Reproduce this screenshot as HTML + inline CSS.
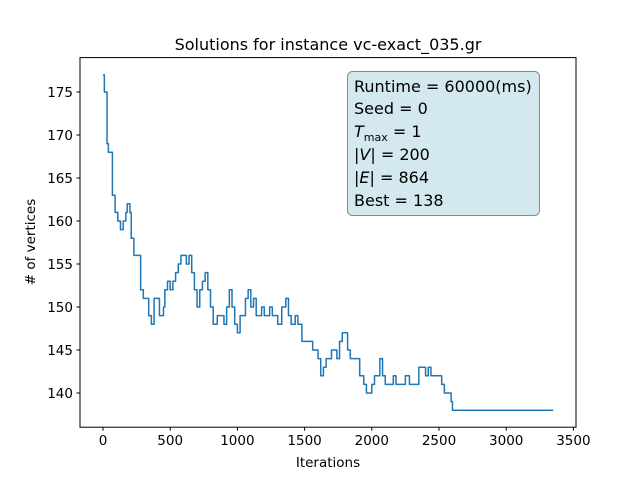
<!DOCTYPE html>
<html><head><meta charset="utf-8"><style>
body{margin:0;background:#fff}
svg{display:block;font-family:"DejaVu Sans","Liberation Sans",sans-serif}
</style></head><body>
<svg id="chart" width="640" height="480">
<rect width="640" height="480" fill="#fff"/>
<text x="328" y="50" text-anchor="middle" font-size="16">Solutions for instance vc-exact_035.gr</text>
<g id="plot"></g>
<rect x="80" y="57.6" width="496" height="369.6" fill="none" stroke="#000" stroke-width="1"/>
<text x="328" y="467" text-anchor="middle" font-size="13.5">Iterations</text>
<text transform="translate(35,242) rotate(-90)" text-anchor="middle" font-size="13.5"># of vertices</text>
<g>
<rect x="347.5" y="71.5" width="192" height="144" rx="5" fill="#d4e9ef" stroke="#7f8c8d" stroke-width="1"/>
<g font-size="16" fill="#000">
<text x="354" y="92">Runtime = 60000(ms)</text>
<text x="354" y="114">Seed = 0</text>
<text x="354" y="137"><tspan font-style="italic">T</tspan><tspan font-size="11" dy="4">max</tspan><tspan dy="-4"> = 1</tspan></text>
<text x="354" y="160">|<tspan font-style="italic">V</tspan>| = 200</text>
<text x="354" y="183">|<tspan font-style="italic">E</tspan>| = 864</text>
<text x="354" y="206">Best = 138</text>
</g></g>
</svg>
<script>
const iters=[0,10,30,40,60,70,90,110,130,150,170,180,200,210,230,260,280,300,330,340,360,380,400,420,450,460,480,500,520,540,560,580,600,620,640,660,680,700,720,740,760,780,800,820,850,900,920,940,960,980,1000,1020,1060,1080,1100,1120,1140,1180,1200,1240,1260,1300,1330,1360,1380,1400,1430,1450,1480,1520,1560,1600,1620,1640,1660,1700,1740,1760,1780,1800,1820,1840,1880,1910,1940,1960,2000,2020,2060,2080,2100,2150,2160,2180,2220,2250,2280,2320,2350,2400,2420,2440,2480,2520,2540,2580,2590,2600,3350];
const vertices=[177,175,169,168,168,163,161,160,159,160,161,162,161,158,156,156,152,151,151,149,148,151,151,149,150,152,153,152,153,154,155,156,156,155,156,154,152,150,152,153,154,152,150,148,149,148,150,152,150,148,147,149,151,152,150,151,149,150,149,150,149,148,150,151,149,148,149,148,146,146,145,144,142,143,144,145,144,146,147,147,145,144,144,142,141,140,141,142,144,142,141,141,142,141,141,142,141,141,143,142,143,142,142,141,140,140,139,138,138];
const xTicks=[0,500,1000,1500,2000,2500,3000,3500];
const yTicks=[140,145,150,155,160,165,170,175];
const NS="http://www.w3.org/2000/svg";
const X=v=>103+v*67.2/500;
const Y=v=>92+(175-v)*8.6;
const g=document.getElementById('plot');
function mk(t,a){const e=document.createElementNS(NS,t);for(const k in a)e.setAttribute(k,a[k]);return e;}
xTicks.forEach(t=>{
 const l=mk('line',{x1:X(t),x2:X(t),y1:427.2,y2:430.7,stroke:'#000'});
 
 
 g.appendChild(l);
 const s=mk('text',{x:X(t),y:445,'text-anchor':'middle','font-size':'13.5'});s.textContent=t;
 
 
 g.appendChild(s);
});
yTicks.forEach(t=>{
 const l=mk('line',{x1:76.5,x2:80,y1:Y(t),y2:Y(t),stroke:'#000'});
 
 
 g.appendChild(l);
 const s=mk('text',{x:73,y:Y(t)+5,'text-anchor':'end','font-size':'13.5'});s.textContent=t;
 
 
 g.appendChild(s);
});
let d='M'+X(iters[0])+','+Y(vertices[0]);
for(let i=1;i<iters.length;i++){d+=' H'+X(iters[i])+' V'+Y(vertices[i]);}
const p=mk('path',{d:d,fill:'none',stroke:'#1f77b4','stroke-width':'1.5','stroke-linejoin':'round'});


g.appendChild(p);
</script>
</body></html>
